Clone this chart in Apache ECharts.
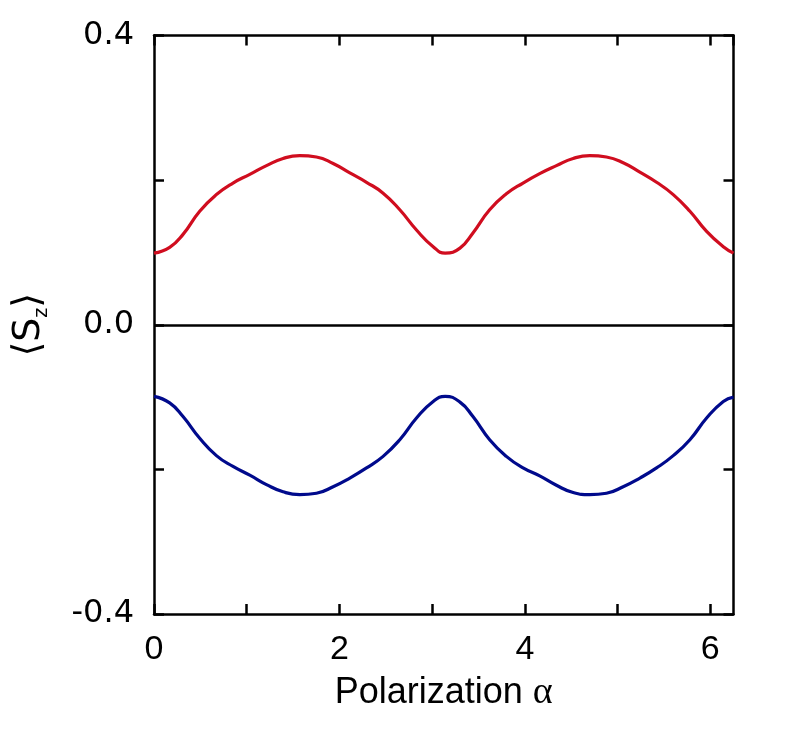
<!DOCTYPE html>
<html>
<head>
<meta charset="utf-8">
<script src="https://cdn.jsdelivr.net/npm/echarts@6/dist/echarts.min.js"></script>
<style>
  html, body { margin: 0; padding: 0; background: #fff; }
  #chart { width: 789px; height: 730px; }
</style>
</head>
<body>
<div id="chart"></div>
<script>
// polarization angle
var alpha = [0, 0.169, 0.313, 0.493, 0.673, 0.852, 1.033, 1.213, 1.392, 1.572, 1.752, 1.932, 2.112, 2.292, 2.471, 2.651, 2.831, 3.011, 3.14,
             3.30, 3.44, 3.62, 3.80, 3.98, 4.16, 4.34, 4.52, 4.70, 4.88, 5.06, 5.24, 5.42, 5.60, 5.78, 5.96, 6.14, 6.25];
var szUp = [0.099, 0.107, 0.125, 0.157, 0.180, 0.196, 0.208, 0.220, 0.230, 0.234, 0.232, 0.223, 0.210, 0.197, 0.182, 0.159, 0.131, 0.108, 0.099,
            0.106, 0.127, 0.159, 0.181, 0.196, 0.209, 0.220, 0.230, 0.234, 0.232, 0.224, 0.211, 0.197, 0.180, 0.157, 0.129, 0.108, 0.099];
var szDown = [-0.099, -0.108, -0.127, -0.157, -0.181, -0.196, -0.208, -0.221, -0.231, -0.235, -0.233, -0.224, -0.212, -0.198, -0.182, -0.159, -0.129, -0.106, -0.099,
              -0.107, -0.127, -0.159, -0.182, -0.198, -0.209, -0.222, -0.232, -0.235, -0.233, -0.224, -0.212, -0.198, -0.181, -0.159, -0.129, -0.106, -0.100];
var xLabels = [0, 2, 4, 6];
var yLabels = [-0.4, 0, 0.4];

function pairs(xs, ys) {
  return xs.map(function (x, i) { return [x, ys[i]]; });
}

function frameAxis(extra) {
  var a = {
    type: 'value',
    axisLine: { onZero: false, lineStyle: { color: '#000', width: 2.5 } },
    axisTick: { inside: true, length: 10, lineStyle: { color: '#000', width: 2.5 } },
    splitLine: { show: false },
    axisLabel: { show: false }
  };
  return Object.assign(a, extra);
}

var chart = echarts.init(document.getElementById('chart'));
chart.setOption({
  animation: false,
  grid: { left: 154, right: 55.5, top: 35.5, bottom: 116 },
  xAxis: [frameAxis({
    min: 0, max: 6.25, interval: 1, position: 'bottom',
    axisLabel: {
      margin: 19, color: '#000', fontSize: 34, fontFamily: 'Liberation Sans',
      showMaxLabel: false,
      formatter: function (v) { return xLabels.indexOf(v) >= 0 ? String(v) : ''; }
    },
    name: '{t|Polarization }{a|α}', nameLocation: 'middle', nameGap: 60,
    nameTextStyle: {
      rich: {
        t: { fontSize: 36, fontFamily: 'Liberation Sans', color: '#000' },
        a: { fontSize: 38, fontFamily: 'Liberation Serif', color: '#000' }
      }
    }
  }), frameAxis({
    min: 0, max: 6.25, interval: 1, position: 'top'
  })],
  yAxis: [frameAxis({
    min: -0.4, max: 0.4, interval: 0.2, position: 'left',
    axisLabel: {
      margin: 20, color: '#000', fontSize: 32, fontFamily: 'DejaVu Sans',
      formatter: function (v) {
        var r = Math.round(v * 10) / 10;
        return yLabels.indexOf(r) >= 0 ? r.toFixed(1) : '';
      }
    },
    name: '{b|⟨S}{z|z}{b|⟩}', nameLocation: 'middle', nameRotate: 90, nameGap: 102,
    nameTextStyle: {
      rich: {
        b: { fontSize: 38, lineHeight: 46, fontFamily: 'DejaVu Sans', color: '#000' },
        z: { fontSize: 19, lineHeight: 10, verticalAlign: 'bottom', fontFamily: 'DejaVu Sans', color: '#000' }
      }
    }
  }), frameAxis({
    min: -0.4, max: 0.4, interval: 0.2, position: 'right'
  })],
  series: [{
    name: 'up', type: 'line', data: pairs(alpha, szUp), smooth: 0.5,
    showSymbol: false, lineStyle: { color: '#d00d1f', width: 3.2 },
    markLine: {
      silent: true, symbol: 'none', label: { show: false },
      lineStyle: { color: '#000', width: 2.5, type: 'solid' },
      data: [{ yAxis: 0 }]
    }
  }, {
    name: 'down', type: 'line', data: pairs(alpha, szDown), smooth: 0.5,
    showSymbol: false, lineStyle: { color: '#000a8c', width: 3.2 }
  }]
});
</script>
</body>
</html>
